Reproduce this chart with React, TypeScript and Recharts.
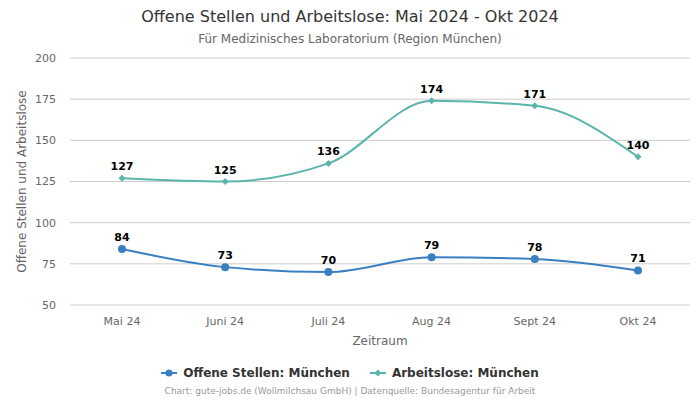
import {
  LineChart,
  Line,
  XAxis,
  YAxis,
  CartesianGrid,
  LabelList,
} from "recharts";

const months = ["Mai 24", "Juni 24", "Juli 24", "Aug 24", "Sept 24", "Okt 24"];
const offeneStellen = [84, 73, 70, 79, 78, 71];
const arbeitslose = [127, 125, 136, 174, 171, 140];
const yTicks = [50, 75, 100, 125, 150, 175, 200];

const BLUE = "#3a7fc1";
const TEAL = "#5bb5ac";
const FONT = "'DejaVu Sans', sans-serif";

const data = months.map((m, i) => ({
  month: m,
  offen: offeneStellen[i],
  arbeitslos: arbeitslose[i],
}));

const Diamond = (props: any) => {
  const { cx, cy, fill } = props;
  if (cx == null || cy == null) return null;
  const r = 3.5;
  return (
    <path
      d={`M${cx},${cy - r}L${cx + r},${cy}L${cx},${cy + r}L${cx - r},${cy}Z`}
      fill={fill}
    />
  );
};

const LegendContent = () => (
  <div
    style={{
      display: "flex",
      justifyContent: "center",
      gap: 20,
      fontFamily: FONT,
      fontSize: 12,
      fontWeight: "bold",
      color: "#333",
    }}
  >
    <div style={{ display: "flex", alignItems: "center", gap: 6 }}>
      <svg width={16} height={10}>
        <line x1={0} y1={5} x2={16} y2={5} stroke={BLUE} strokeWidth={2} />
        <circle cx={8} cy={5} r={3.5} fill={BLUE} />
      </svg>
      <span>Offene Stellen: München</span>
    </div>
    <div style={{ display: "flex", alignItems: "center", gap: 6 }}>
      <svg width={16} height={10}>
        <line x1={0} y1={5} x2={16} y2={5} stroke={TEAL} strokeWidth={2} />
        <path d="M8,1.5L11.5,5L8,8.5L4.5,5Z" fill={TEAL} />
      </svg>
      <span>Arbeitslose: München</span>
    </div>
  </div>
);

const labelStyle = { fill: "#000", fontWeight: "bold", fontSize: 11, fontFamily: FONT };

export default function App() {
  return (
    <div
      style={{
        position: "absolute",
        left: 0,
        top: 0,
        width: 700,
        height: 400,
        background: "#fff",
        fontFamily: FONT,
      }}
    >
      <div
        style={{
          position: "absolute",
          top: 7,
          width: 700,
          textAlign: "center",
          fontSize: 16,
          color: "#333",
        }}
      >
        Offene Stellen und Arbeitslose: Mai 2024 - Okt 2024
      </div>
      <div
        style={{
          position: "absolute",
          top: 32,
          width: 700,
          textAlign: "center",
          fontSize: 12,
          color: "#666",
        }}
      >
        Für Medizinisches Laboratorium (Region München)
      </div>
      <div style={{ position: "absolute", top: 366, width: 700 }}>
        <LegendContent />
      </div>
      <div
        style={{
          position: "absolute",
          top: 386,
          width: 700,
          textAlign: "center",
          fontSize: 9,
          color: "#999",
        }}
      >
        Chart: gute-jobs.de (Wollmilchsau GmbH) | Datenquelle: Bundesagentur für Arbeit
      </div>
      <LineChart
        width={700}
        height={400}
        data={data}
        margin={{ top: 58, right: 10, bottom: 65, left: 0 }}
        style={{ position: "absolute", left: 0, top: 0 }}
      >
        <CartesianGrid vertical={false} stroke="#ccc" />
        <XAxis
          dataKey="month"
          axisLine={false}
          tickLine={false}
          tickMargin={6}
          padding={{ left: 52, right: 52 }}
          tick={{ fill: "#666", fontSize: 11, fontFamily: FONT }}
          label={{
            value: "Zeitraum",
            position: "insideBottom",
            offset: -10,
            fill: "#666",
            fontSize: 12,
            fontFamily: FONT,
          }}
        />
        <YAxis
          width={70}
          domain={[50, 200]}
          ticks={yTicks}
          axisLine={false}
          tickLine={false}
          tickMargin={8}
          tick={{ fill: "#666", fontSize: 11, fontFamily: FONT }}
          label={{
            value: "Offene Stellen und Arbeitslose",
            angle: -90,
            position: "insideLeft",
            offset: 22,
            style: { textAnchor: "middle" },
            fill: "#666",
            fontSize: 12,
            fontFamily: FONT,
          }}
        />
        <Line
          type="monotone"
          dataKey="offen"
          stroke={BLUE}
          strokeWidth={2}
          dot={{ r: 4, fill: BLUE, stroke: BLUE, strokeWidth: 0 }}
          activeDot={false}
          isAnimationActive={false}
        >
          <LabelList dataKey="offen" position="top" offset={8} style={labelStyle} />
        </Line>
        <Line
          type="monotone"
          dataKey="arbeitslos"
          stroke={TEAL}
          strokeWidth={2}
          dot={<Diamond fill={TEAL} />}
          activeDot={false}
          isAnimationActive={false}
        >
          <LabelList dataKey="arbeitslos" position="top" offset={8} style={labelStyle} />
        </Line>
      </LineChart>
    </div>
  );
}
